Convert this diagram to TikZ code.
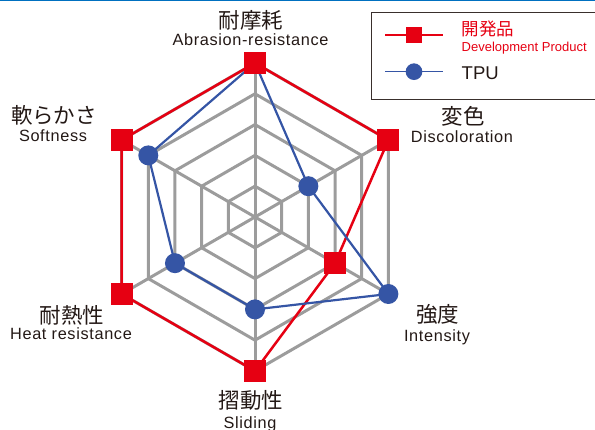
\documentclass[tikz,border=0pt]{standalone}
\usepackage{fontspec}
\setmainfont{Liberation Sans}
\newfontfamily\enfont[LetterSpace=4]{Liberation Sans}
\newfontfamily\jpfont{Noto Sans CJK JP}
\definecolor{devred}{HTML}{E60012}
\definecolor{tpublue}{HTML}{3555A5}
\definecolor{gridgray}{HTML}{9C9C9C}
\definecolor{inkblack}{HTML}{231815}
\definecolor{barblue}{HTML}{0070C0}
\tikzset{
  devmark/.style={fill=devred, minimum size=22pt, inner sep=0pt},
  tpumark/.style={circle, fill=tpublue, minimum size=20pt, inner sep=0pt},
  jplabel/.style={font=\jpfont\fontsize{21.5}{22}\selectfont, text=inkblack, inner sep=0pt, text height=19pt, text depth=2.6pt},
  enlabel/.style={font=\enfont\fontsize{16.3}{18}\selectfont, text=inkblack, inner sep=0pt, anchor=base},
  legjp/.style={font=\jpfont\fontsize{17.5}{18}\selectfont, inner sep=0pt, anchor=west, text height=15.4pt, text depth=2.1pt},
}
\begin{document}
\begin{tikzpicture}[x=1pt,y=1pt]
  \useasboundingbox (0,0) rectangle (595,430);
  \fill[barblue] (0,428.5) rectangle (595,430);

  \begin{scope}[shift={(255,213)}]
    % web
    \foreach \r in {1,...,5}
      \draw[gridgray, line width=3pt] (90:\r*30.8) -- (30:\r*30.8) -- (-30:\r*30.8) -- (-90:\r*30.8) -- (-150:\r*30.8) -- (150:\r*30.8) -- cycle;
    \foreach \a in {90,30,-30,-90,-150,150}
      \draw[gridgray, line width=3pt] (0,0) -- (\a:154);

    % values
    \foreach \a/\v [count=\i] in {90/5,30/5,-30/3,-90/5,-150/5,150/5}
      \coordinate (d\i) at (\a:\v*30.8);
    \foreach \a/\v [count=\i] in {90/5,30/2,-30/5,-90/3,-150/3,150/4}
      \coordinate (t\i) at (\a:\v*30.8);

    \draw[devred, line width=2.5pt] (d1) -- (d2) -- (d3) -- (d4) -- (d5) -- (d6) -- cycle;
    \draw[tpublue, line width=2.2pt] (t1) -- (t2) -- (t3) -- (t4) -- (t5) -- (t6) -- cycle;
    \foreach \i in {1,...,6} \node[tpumark] (tm\i) at (t\i) {};
    \foreach \i in {1,...,6} \node[devmark] (dm\i) at (d\i) {};
  \end{scope}

  % axis labels
  \node[jplabel] (abrjp) at (251,410) {耐摩耗};
  \node[enlabel] (abren) at (250.5,384.3) {Abrasion-resistance};
  \node[jplabel] (disjp) at (463,314) {変色};
  \node[enlabel] (disen) at (462,287.7) {Discoloration};
  \node[jplabel] (intjp) at (437.5,116) {強度};
  \node[enlabel] (inten) at (437,88.3) {Intensity};
  \node[jplabel] (slijp) at (251,30) {摺動性};
  \node[enlabel] (slien) at (250,1.6) {Sliding};
  \node[jplabel] (heajp) at (72,115) {耐熱性};
  \node[enlabel] (heaen) at (71,90) {Heat resistance};
  \node[jplabel] (sofjp) at (54,315) {軟らかさ};
  \node[enlabel] (sofen) at (53,288.3) {Softness};

  % legend
  \draw[inkblack!90, line width=1.5pt] (371.7,417.3) rectangle (600,330.7);
  \coordinate (devA) at (385,395);
  \coordinate (devB) at (443,395);
  \draw[devred, line width=1.6pt] (devA) -- (devB);
  \node[devmark, minimum size=16pt] (devkey) at (414,395) {};
  \node[legjp, text=devred] (devjp) at (461.5,401.2) {開発品};
  \node[font=\fontsize{13}{14}\selectfont, text=devred, inner sep=0pt, anchor=base west] (deven) at (461.5,378.3) {Development Product};
  \coordinate (tpuA) at (385,358.3);
  \coordinate (tpuB) at (443,358.3);
  \draw[tpublue, line width=1.6pt] (tpuA) -- (tpuB);
  \node[tpumark, minimum size=16.7pt] (tpukey) at (414,358.3) {};
  \node[font=\fontsize{18.5}{19}\selectfont, text=inkblack, inner sep=0pt, anchor=base west] (tpuen) at (461.5,350) {TPU};
\end{tikzpicture}
\end{document}
